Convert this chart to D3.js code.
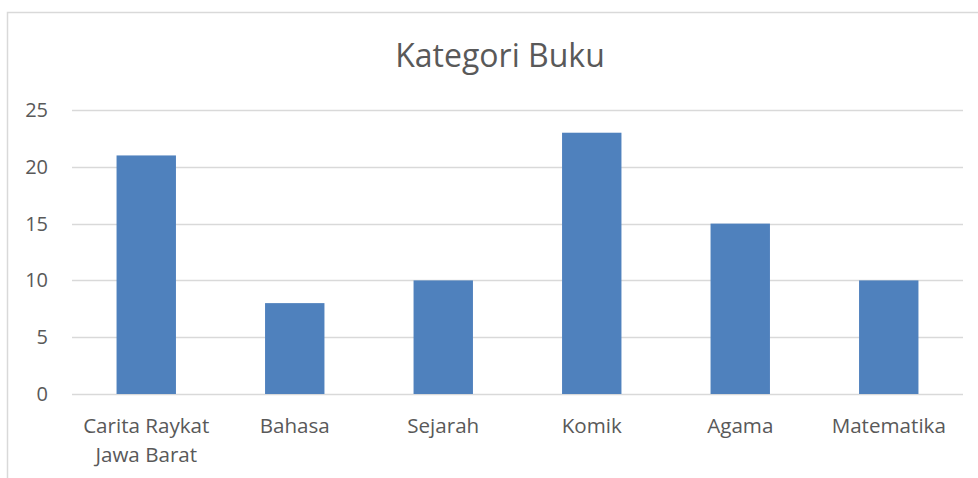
<!DOCTYPE html>
<html>
<head>
<meta charset="utf-8">
<script src="https://cdnjs.cloudflare.com/ajax/libs/d3/7.8.5/d3.min.js"></script>
<style>
  html, body { margin: 0; padding: 0; background: #fff; }
  svg { display: block; font-family: "Open Sans", sans-serif; }
</style>
</head>
<body>
<svg id="chart"></svg>
<script>
// data
const categories = ["Carita Raykat Jawa Barat", "Bahasa", "Sejarah", "Komik", "Agama", "Matematika"];
const labelLines = [["Carita Raykat", "Jawa Barat"], ["Bahasa"], ["Sejarah"], ["Komik"], ["Agama"], ["Matematika"]];
const values = [21, 8, 10, 23, 15, 10];
const yTicks = [0, 5, 10, 15, 20, 25];
const chartTitle = "Kategori Buku";

const width = 978;
const height = 478;
const margin = { top: 110, right: 15, bottom: 84, left: 72 };

const svg = d3.select("#chart")
    .attr("width", width)
    .attr("height", height);

// chart area border (left + top visible)
svg.append("rect")
    .attr("x", 7.5)
    .attr("y", 12.5)
    .attr("width", width + 20)
    .attr("height", height + 20)
    .attr("fill", "none")
    .attr("stroke", "#d9d9d9")
    .attr("stroke-width", 1.5);

const x = d3.scaleBand()
    .domain(categories)
    .range([margin.left, width - margin.right])
    .paddingInner(0.6)
    .paddingOuter(0.3);

const y = d3.scaleLinear()
    .domain([0, 25])
    .range([height - margin.bottom, margin.top]);

// gridlines
svg.append("g")
    .selectAll("line")
    .data(yTicks)
    .join("line")
    .attr("x1", margin.left)
    .attr("x2", width - margin.right)
    .attr("y1", d => Math.round(y(d)) + 0.5)
    .attr("y2", d => Math.round(y(d)) + 0.5)
    .attr("stroke", "#d9d9d9")
    .attr("stroke-width", 1.3);

// y labels
svg.append("g")
    .selectAll("text")
    .data(yTicks)
    .join("text")
    .attr("x", 48)
    .attr("y", d => y(d))
    .attr("dy", "0.35em")
    .attr("text-anchor", "end")
    .attr("font-size", "20px")
    .attr("fill", "#595959")
    .text(d => d);

// bars
svg.append("g")
    .selectAll("rect")
    .data(values)
    .join("rect")
    .attr("x", (d, i) => x(categories[i]))
    .attr("y", d => y(d))
    .attr("width", x.bandwidth())
    .attr("height", d => y(0) - y(d))
    .attr("fill", "#4f81bd");

// x labels
const xl = svg.append("g")
    .selectAll("text")
    .data(categories)
    .join("text")
    .attr("x", d => x(d) + x.bandwidth() / 2)
    .attr("y", 433)
    .attr("text-anchor", "middle")
    .attr("font-size", "20.6px")
    .attr("fill", "#595959");

xl.selectAll("tspan")
    .data((d, i) => labelLines[i])
    .join("tspan")
    .attr("x", function () { return this.parentNode.getAttribute("x"); })
    .attr("dy", (d, i) => i === 0 ? 0 : 29)
    .text(d => d);

// title
svg.append("text")
    .attr("x", 500)
    .attr("y", 67)
    .attr("text-anchor", "middle")
    .attr("font-size", "32px")
    .attr("fill", "#595959")
    .text(chartTitle);
</script>
</body>
</html>
